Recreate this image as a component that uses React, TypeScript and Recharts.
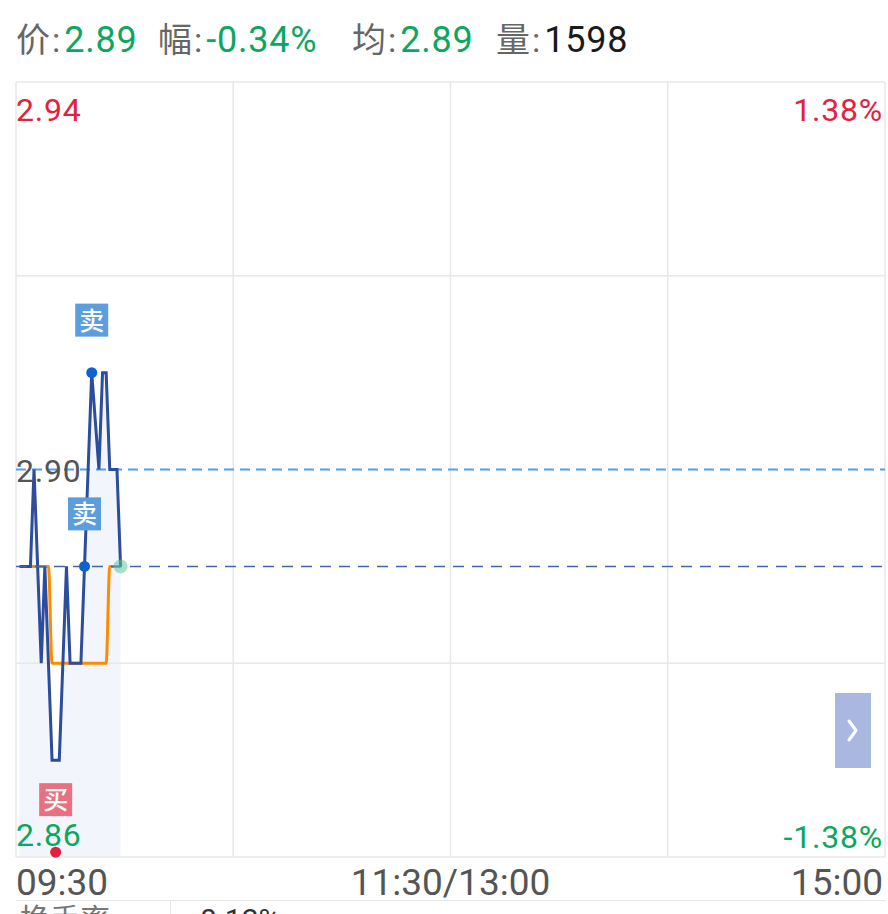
import React from 'react';
import { ComposedChart, Line, Area, XAxis, YAxis, ReferenceLine, ReferenceDot } from 'recharts';

const minuteIndex = [0, 1, 2, 3, 4, 5, 6, 7, 8, 9, 10, 11, 12, 13, 14, 15, 16, 17, 18, 19, 20, 21, 22, 23, 24, 25, 26, 27, 28];
const prices = [2.89, 2.89, 2.89, 2.89, 2.90, 2.89, 2.88, 2.89, 2.88, 2.87, 2.87, 2.87, 2.88, 2.89, 2.88, 2.88, 2.88, 2.88, 2.89, 2.90, 2.91, 2.905, 2.90, 2.91, 2.91, 2.90, 2.90, 2.90, 2.89];
const avgPrices = [2.89, 2.89, 2.89, 2.89, 2.89, 2.89, 2.89, 2.89, 2.89, 2.88, 2.88, 2.88, 2.88, 2.88, 2.88, 2.88, 2.88, 2.88, 2.88, 2.88, 2.88, 2.88, 2.88, 2.88, 2.88, 2.89, 2.89, 2.89, 2.89];

const gridXValues = [-1, 59.25, 119.5, 179.75, 240];
const gridYValues = [2.94, 2.92, 2.88, 2.86];
const timeTicks = [-1, 119.5, 240];
const timeLabels = ['09:30', '11:30/13:00', '15:00'];
const priceMax = 2.94;
const priceMin = 2.86;
const prevClose = 2.9;
const lastPrice = 2.89;
const lastIndex = 28;

const tradeIdx = [10, 18, 20];
const tradeVals = [2.8605, 2.89, 2.91];
const tradeSides = ['买', '卖', '卖'];

const headerLabels = ['价', '幅', '均', '量'];
const headerValues = ['2.89', '-0.34%', '2.89', '1598'];
const headerLefts = [16, 158, 352, 496];
const headerColors = ['#0ba760', '#0ba760', '#0ba760', '#1a1a1a'];

const FONT = 'Roboto, "Noto Sans CJK SC", sans-serif';
const RED = '#e3213c';
const GREEN = '#0ba760';

const data = minuteIndex.map((i, k) => ({ i, price: prices[k], avg: avgPrices[k] }));

const pctText = (v: number) => ((v - prevClose) / prevClose * 100).toFixed(2) + '%';

const EdgeLabel = (props: any) => {
  const { viewBox, text, color, side, dy } = props;
  if (!viewBox) return null;
  const x = side === 'right' ? viewBox.x + viewBox.width - 2 : viewBox.x;
  return (
    <text x={x} y={viewBox.y + dy} fill={color} fontSize={32} letterSpacing={0.8} fontFamily={FONT} textAnchor={side === 'right' ? 'end' : 'start'}>
      {text}
    </text>
  );
};

const TimeTick = (props: any) => {
  const { x, y, index } = props;
  const anchor = index === 0 ? 'start' : index === timeLabels.length - 1 ? 'end' : 'middle';
  const dx = index === timeLabels.length - 1 ? -2 : 0;
  return (
    <text x={x + dx} y={y + 30} fill="#555" fontSize={37} fontFamily={FONT} textAnchor={anchor}>
      {timeLabels[index]}
    </text>
  );
};

const tradeShape = (side: string) => (props: any) => {
  const { cx, cy } = props;
  const isBuy = side === '买';
  const dot = isBuy ? RED : '#0b63cf';
  const box = isBuy ? '#e9717f' : '#5b9ddd';
  return (
    <g>
      <rect x={cx - 16.5} y={cy - 69} width={33} height={33} fill={box} />
      <text x={cx} y={cy - 43} fill="#fff" fontSize={25} fontWeight={500} fontFamily={FONT} textAnchor="middle">
        {side}
      </text>
      <circle cx={cx} cy={cy} r={5.5} fill={dot} />
    </g>
  );
};

export default function App() {
  return (
    <div style={{ position: 'absolute', left: 0, top: 0, width: 888, height: 914, background: '#fff', overflow: 'hidden', fontFamily: FONT }}>
      {headerLabels.map((lab, k) => (
        <div key={k} style={{ position: 'absolute', left: headerLefts[k], top: 22, fontSize: 34, lineHeight: '36px', whiteSpace: 'nowrap' }}>
          <span style={{ color: '#666' }}>{lab}</span>
          <span style={{ color: '#666', margin: '0 4px 0 2px' }}>:</span>
          <span style={{ color: headerColors[k], fontSize: 36, letterSpacing: 0.8 }}>{headerValues[k]}</span>
        </div>
      ))}
      <div style={{ position: 'absolute', left: 0, top: 0 }}>
        <ComposedChart width={888} height={914} data={data} margin={{ top: 82, right: 3, left: 16, bottom: 0 }}>
          <XAxis
            dataKey="i"
            type="number"
            domain={[-1, 240]}
            ticks={timeTicks}
            height={57}
            axisLine={false}
            tickLine={false}
            tick={<TimeTick />}
            interval={0}
            allowDataOverflow
          />
          <YAxis yAxisId="p" type="number" domain={[priceMin, priceMax]} hide allowDataOverflow />
          {gridXValues.map((v) => (
            <ReferenceLine key={'gx' + v} yAxisId="p" x={v} stroke="#e8e8e8" strokeWidth={1.5} />
          ))}
          {gridYValues.map((v) => (
            <ReferenceLine key={'gy' + v} yAxisId="p" y={v} stroke="#e8e8e8" strokeWidth={1.5} />
          ))}
          <Area
            yAxisId="p"
            type="linear"
            dataKey="price"
            stroke="none"
            fill="#eef2fa"
            fillOpacity={0.75}
            isAnimationActive={false}
          />
          <ReferenceLine yAxisId="p" y={prevClose} stroke="#4f9ef2" strokeWidth={2} strokeDasharray="10 6" />
          <Line
            yAxisId="p"
            type="monotone"
            dataKey="avg"
            stroke="#ff8c00"
            strokeWidth={3}
            dot={false}
            isAnimationActive={false}
          />
          <Line
            yAxisId="p"
            type="linear"
            dataKey="price"
            stroke="#2c4c9c"
            strokeWidth={3}
            dot={false}
            isAnimationActive={false}
          />
          <ReferenceLine yAxisId="p" y={lastPrice} stroke="#4563ad" strokeWidth={1.5} strokeDasharray="11 8" />
          <ReferenceLine yAxisId="p" y={priceMax} stroke="none" label={<EdgeLabel text={priceMax.toFixed(2)} color={RED} side="left" dy={39} />} />
          <ReferenceLine yAxisId="p" y={priceMax} stroke="none" label={<EdgeLabel text={pctText(priceMax)} color={RED} side="right" dy={39} />} />
          <ReferenceLine yAxisId="p" y={priceMin} stroke="none" label={<EdgeLabel text={priceMin.toFixed(2)} color={GREEN} side="left" dy={-11} />} />
          <ReferenceLine yAxisId="p" y={priceMin} stroke="none" label={<EdgeLabel text={pctText(priceMin)} color={GREEN} side="right" dy={-9} />} />
          <ReferenceLine yAxisId="p" y={prevClose} stroke="none" label={<EdgeLabel text={prevClose.toFixed(2)} color="#555" side="left" dy={12} />} />
          <ReferenceDot yAxisId="p" x={lastIndex} y={lastPrice} r={7} fill="#5cc99a" fillOpacity={0.55} stroke="none" />
          {tradeIdx.map((ix, k) => (
            <ReferenceDot
              key={'t' + k}
              yAxisId="p"
              x={ix}
              y={tradeVals[k]}
              r={5}
              ifOverflow="visible"
              shape={tradeShape(tradeSides[k])}
            />
          ))}
        </ComposedChart>
      </div>
      <div style={{ position: 'absolute', left: 835, top: 693, width: 36, height: 75, background: '#aab8e1' }}>
        <svg width={36} height={75} style={{ display: 'block' }}>
          <polyline points="14,28 21,37.5 14,47" fill="none" stroke="#fff" strokeWidth={3} strokeLinecap="round" strokeLinejoin="round" />
        </svg>
      </div>
      <div style={{ position: 'absolute', left: 16, top: 900, width: 870, height: 0, borderTop: '1.5px solid #e6e6e6' }} />
      <div style={{ position: 'absolute', left: 170, top: 900, width: 0, height: 20, borderLeft: '1.5px solid #e6e6e6' }} />
      <div style={{ position: 'absolute', left: 20, top: 903, fontSize: 30, lineHeight: '34px', color: '#777', whiteSpace: 'nowrap' }}>换手率</div>
      <div style={{ position: 'absolute', left: 200, top: 903, fontSize: 30, lineHeight: '34px', color: '#333', whiteSpace: 'nowrap' }}>0.12%</div>
    </div>
  );
}
